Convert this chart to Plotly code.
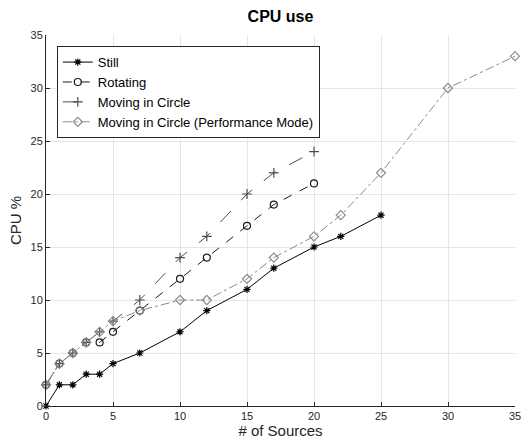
import plotly.graph_objects as go

still_x = [0, 1, 2, 3, 4, 5, 7, 10, 12, 15, 17, 20, 22, 25]
still_y = [0, 2, 2, 3, 3, 4, 5, 7, 9, 11, 13, 15, 16, 18]

rot_x = [0, 1, 2, 3, 4, 5, 7, 10, 12, 15, 17, 20]
rot_y = [2, 4, 5, 6, 6, 7, 9, 12, 14, 17, 19, 21]

circ_x = [0, 1, 2, 3, 4, 5, 7, 10, 12, 15, 17, 20]
circ_y = [2, 4, 5, 6, 7, 8, 10, 14, 16, 20, 22, 24]

perf_x = [0, 1, 2, 3, 4, 5, 7, 10, 12, 15, 17, 20, 22, 25, 30, 35]
perf_y = [2, 4, 5, 6, 7, 8, 9, 10, 10, 12, 14, 16, 18, 22, 30, 33]

tick_vals = [0, 5, 10, 15, 20, 25, 30, 35]

fig = go.Figure()
series = [
    ("Still", still_x, still_y, "#000000", "solid", "asterisk-open", 6),
    ("Rotating", rot_x, rot_y, "#1a1a1a", "dash", "circle-open", 7),
    ("Moving in Circle", circ_x, circ_y, "#4d4d4d", "longdash", "cross-thin-open", 7),
    ("Moving in Circle (Performance Mode)", perf_x, perf_y, "#8c8c8c", "dashdot", "diamond-open", 7),
]
for name, x, y, c, dash, sym, sz in series:
    fig.add_trace(go.Scatter(
        x=x, y=y, name=name, mode="lines+markers",
        line=dict(color=c, width=1, dash=dash),
        marker=dict(symbol=sym, size=sz, color=c, line=dict(color=c, width=1.2)),
        cliponaxis=False,
    ))

axis_common = dict(
    range=[0, 35], tickvals=tick_vals, showgrid=True, gridcolor="#e5e5e5", gridwidth=1,
    zeroline=False, showline=True, linecolor="#262626", linewidth=1, automargin=False,
    ticks="inside", ticklen=4, tickcolor="#262626", ticklabeloverflow="allow",
    tickfont=dict(family="Liberation Sans, Arial", size=11, color="#262626"),
)
fig.update_layout(
    width=521, height=442,
    margin=dict(l=46, r=6, t=35, b=36),
    paper_bgcolor="white", plot_bgcolor="white",
    title=dict(text="<b>CPU use</b>", x=(46 + 469 / 2) / 521, xanchor="center", y=1 - 16 / 442, yanchor="middle",
               font=dict(family="Liberation Sans, Arial", size=16, color="#000000")),
    font=dict(family="Liberation Sans, Arial", color="#262626"),
    xaxis=dict(axis_common, title=dict(text="# of Sources", font=dict(size=15, color="#262626"), standoff=3)),
    yaxis=dict(axis_common, title=dict(text="CPU %", font=dict(size=15, color="#262626"), standoff=5)),
    legend=dict(x=0.023, y=0.97, xanchor="left", yanchor="top", bgcolor="white",
                bordercolor="#262626", borderwidth=1,
                font=dict(family="Liberation Sans, Arial", size=13, color="#000000"),
                tracegroupgap=0, itemwidth=30),
    showlegend=True,
)

fig.write_html("out.html")
